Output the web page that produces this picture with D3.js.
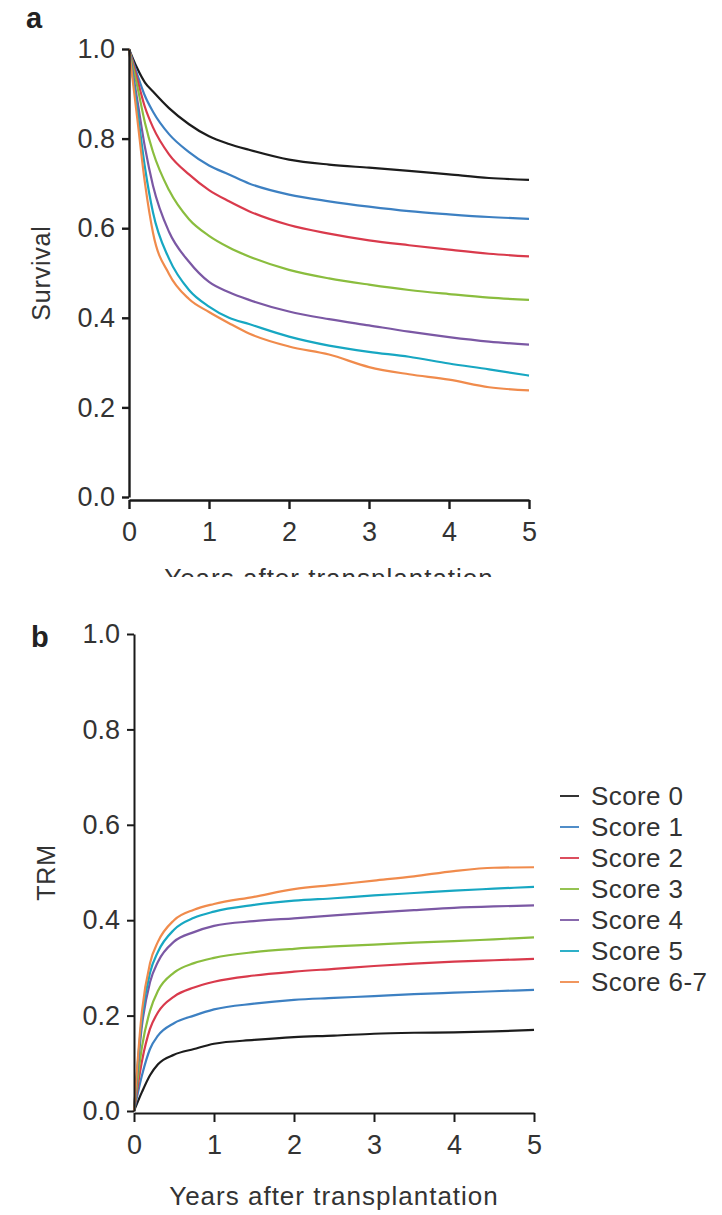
<!DOCTYPE html>
<html>
<head>
<meta charset="utf-8">
<script src="https://cdn.jsdelivr.net/npm/d3@7"></script>
<style>
  html, body { margin: 0; padding: 0; background: #fff; }
  svg { display: block; }
  text { font-family: "Liberation Sans", Arial, Helvetica, sans-serif; fill: #333; }
</style>
</head>
<body>
<svg id="chart" width="722" height="1215"></svg>
<script>
// Score groups and line colours
const scores = ["Score 0", "Score 1", "Score 2", "Score 3", "Score 4", "Score 5", "Score 6-7"];
const colors = ["#1c1c1c", "#3d80c2", "#d93a4c", "#8abd3e", "#7b58a4", "#17a7c2", "#f08b4c"];

// Years after transplantation at which each curve is sampled
const survYears = [0, 0.1, 0.2, 0.3, 0.5, 0.75, 1, 1.25, 1.5, 2, 2.5, 3, 3.5, 4, 4.5, 5];
const survScore0 = [1, 0.958, 0.925, 0.905, 0.868, 0.832, 0.805, 0.788, 0.775, 0.753, 0.742, 0.735, 0.728, 0.720, 0.712, 0.708];
const survScore1 = [1, 0.945, 0.895, 0.860, 0.810, 0.770, 0.740, 0.720, 0.700, 0.675, 0.660, 0.648, 0.638, 0.631, 0.625, 0.621];
const survScore2 = [1, 0.935, 0.870, 0.825, 0.765, 0.720, 0.685, 0.660, 0.638, 0.607, 0.588, 0.573, 0.562, 0.552, 0.543, 0.537];
const survScore3 = [1, 0.920, 0.835, 0.770, 0.685, 0.620, 0.583, 0.557, 0.537, 0.507, 0.488, 0.474, 0.462, 0.453, 0.445, 0.440];
const survScore4 = [1, 0.890, 0.780, 0.695, 0.592, 0.525, 0.480, 0.457, 0.440, 0.414, 0.397, 0.383, 0.369, 0.357, 0.347, 0.340];
const survScore5 = [1, 0.870, 0.735, 0.635, 0.532, 0.462, 0.425, 0.400, 0.386, 0.358, 0.338, 0.324, 0.313, 0.298, 0.285, 0.271];
const survScore67 = [1, 0.850, 0.700, 0.590, 0.498, 0.442, 0.413, 0.388, 0.365, 0.336, 0.318, 0.290, 0.274, 0.262, 0.245, 0.238];

const trmYears = [0, 0.1, 0.2, 0.3, 0.5, 0.75, 1, 1.5, 2, 2.5, 3, 3.5, 4, 4.5, 5];
const trmScore0 = [0, 0.040, 0.075, 0.098, 0.118, 0.130, 0.141, 0.149, 0.155, 0.158, 0.162, 0.164, 0.165, 0.167, 0.170];
const trmScore1 = [0, 0.075, 0.130, 0.158, 0.184, 0.200, 0.213, 0.225, 0.233, 0.237, 0.241, 0.245, 0.248, 0.251, 0.254];
const trmScore2 = [0, 0.105, 0.172, 0.207, 0.240, 0.259, 0.271, 0.284, 0.292, 0.298, 0.304, 0.309, 0.313, 0.316, 0.319];
const trmScore3 = [0, 0.135, 0.210, 0.252, 0.290, 0.310, 0.321, 0.333, 0.340, 0.345, 0.349, 0.353, 0.356, 0.360, 0.364];
const trmScore4 = [0, 0.180, 0.270, 0.313, 0.355, 0.375, 0.388, 0.398, 0.404, 0.410, 0.416, 0.421, 0.426, 0.429, 0.431];
const trmScore5 = [0, 0.195, 0.290, 0.334, 0.380, 0.405, 0.418, 0.432, 0.441, 0.446, 0.452, 0.457, 0.462, 0.466, 0.470];
const trmScore67 = [0, 0.210, 0.310, 0.355, 0.400, 0.422, 0.434, 0.449, 0.465, 0.474, 0.483, 0.492, 0.503, 0.510, 0.511];

const xTicks = [0, 1, 2, 3, 4, 5];
const yTicks = [0, 0.2, 0.4, 0.6, 0.8, 1.0];

const survSeries = [survScore0, survScore1, survScore2, survScore3, survScore4, survScore5, survScore67];
const trmSeries = [trmScore0, trmScore1, trmScore2, trmScore3, trmScore4, trmScore5, trmScore67];

const svg = d3.select("#chart");
const FONT = "\"Liberation Sans\", Arial, Helvetica, sans-serif";

function panel(opts) {
  const g = svg.append("g");
  const x = d3.scaleLinear().domain([0, 5]).range([opts.x0, opts.x1]);
  const y = d3.scaleLinear().domain([0, 1]).range([opts.y0, opts.y1]);

  // curves
  const line = d3.line().x(d => x(d[0])).y(d => y(d[1])).curve(d3.curveMonotoneX);
  opts.series.forEach((vals, i) => {
    g.append("path")
      .datum(opts.years.map((t, k) => [t, vals[k]]))
      .attr("fill", "none")
      .attr("stroke", colors[i])
      .attr("stroke-width", 2.2)
      .attr("stroke-linejoin", "round")
      .attr("d", line);
  });

  // y axis
  const ya = g.append("g")
    .attr("transform", `translate(${opts.x0},0)`)
    .call(d3.axisLeft(y).tickValues(yTicks).tickFormat(d3.format(".1f"))
      .tickSize(7).tickSizeOuter(0).tickPadding(opts.yPad));
  // x axis
  const xa = g.append("g")
    .attr("transform", `translate(0,${opts.y0 + opts.xGap})`)
    .call(d3.axisBottom(x).tickValues(xTicks).tickFormat(d3.format("d"))
      .tickSize(9).tickSizeOuter(0).tickPadding(13));

  [ya, xa].forEach(a => {
    a.select(".domain").attr("stroke", "#1a1a1a").attr("stroke-width", opts.axisW);
    a.selectAll(".tick line").attr("stroke", "#1a1a1a").attr("stroke-width", opts.axisW);
    a.selectAll(".tick text").attr("font-size", 27).style("fill", "#333").style("font-family", FONT);
  });

  // panel letter
  g.append("text").attr("x", opts.letterX).attr("y", opts.letterY)
    .attr("font-size", 29).attr("font-weight", "bold").style("fill", "#222")
    .text(opts.letter);

  // y axis title
  g.append("text")
    .attr("transform", `translate(${opts.yTitleX},${(opts.y0 + opts.y1) / 2}) rotate(-90)`)
    .attr("text-anchor", "middle")
    .attr("font-size", 25)
    .attr("letter-spacing", 0.8)
    .text(opts.yTitle);

  // x axis title (optionally clipped)
  const xt = g.append("text")
    .attr("x", (opts.x0 + opts.x1) / 2)
    .attr("y", opts.xTitleY)
    .attr("text-anchor", "middle")
    .attr("font-size", 26)
    .attr("letter-spacing", 1.0)
    .text("Years after transplantation");
  if (opts.clipTitleAt) {
    svg.append("clipPath").attr("id", "clipA")
      .append("rect").attr("x", 0).attr("y", 0).attr("width", 722).attr("height", opts.clipTitleAt);
    xt.attr("clip-path", "url(#clipA)");
  }
  return { g, x, y };
}

panel({
  x0: 129, x1: 529, y0: 497, y1: 49, xGap: 3, axisW: 2.4, yPad: 7,
  series: survSeries, years: survYears,
  letter: "a", letterX: 26, letterY: 28,
  yTitle: "Survival", yTitleX: 50,
  xTitleY: 587, clipTitleAt: 577
});

panel({
  x0: 134, x1: 534, y0: 1111, y1: 634, xGap: 2, axisW: 2, yPad: 7,
  series: trmSeries, years: trmYears,
  letter: "b", letterX: 31, letterY: 647,
  yTitle: "TRM", yTitleX: 55,
  xTitleY: 1205
});

// legend
const legend = svg.append("g").attr("transform", "translate(560,796)");
scores.forEach((s, i) => {
  const row = legend.append("g").attr("transform", `translate(0,${i * 31})`);
  row.append("line").attr("x1", 0).attr("x2", 19).attr("y1", 0).attr("y2", 0)
    .attr("stroke", colors[i]).attr("stroke-width", 1.8);
  row.append("text").attr("x", 31).attr("y", 0).attr("dy", "0.35em")
    .attr("font-size", 26).attr("letter-spacing", 0.4).text(s);
});
</script>
</body>
</html>
